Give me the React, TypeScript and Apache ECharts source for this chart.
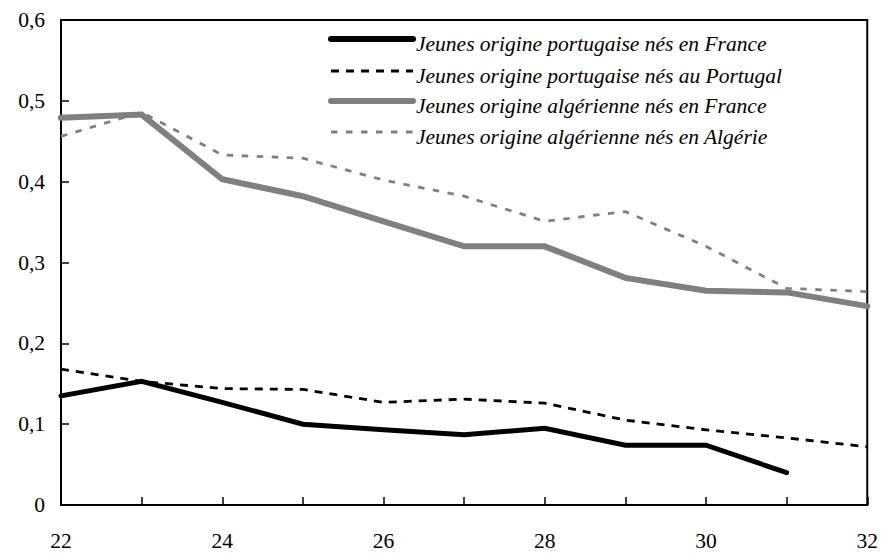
import React, { useEffect, useRef } from "react";
import * as echarts from "echarts";

const ages = [22, 23, 24, 25, 26, 27, 28, 29, 30, 31, 32];
const seriesNames = [
  "Jeunes origine portugaise nés en France",
  "Jeunes origine portugaise nés au Portugal",
  "Jeunes origine algérienne nés en France",
  "Jeunes origine algérienne nés en Algérie",
];
const portFrance = [0.135, 0.153, 0.127, 0.1, 0.093, 0.087, 0.095, 0.074, 0.074, 0.04, null];
const portPortugal = [0.168, 0.153, 0.144, 0.143, 0.127, 0.131, 0.126, 0.105, 0.093, 0.083, 0.072];
const algFrance = [0.479, 0.483, 0.403, 0.382, 0.351, 0.32, 0.32, 0.281, 0.265, 0.263, 0.246];
const algAlgerie = [0.456, 0.486, 0.433, 0.429, 0.402, 0.382, 0.351, 0.363, 0.32, 0.268, 0.264];

const FONT = "'Liberation Serif', 'Times New Roman', serif";

function pairs(vals: (number | null)[]) {
  return ages.map((a, i) => [a, vals[i]]).filter((p) => p[1] !== null);
}

export default function App() {
  const ref = useRef<HTMLDivElement>(null);
  useEffect(() => {
    if (!ref.current) return;
    const chart = echarts.init(ref.current, undefined, { renderer: "svg" });
    const styles = [
      { color: "#000000", width: 5, dash: null as number[] | null, legendWidth: 6 },
      { color: "#000000", width: 2.8, dash: [8, 7], legendWidth: 3 },
      { color: "#808080", width: 6, dash: null, legendWidth: 6 },
      { color: "#808080", width: 2.8, dash: [6.5, 8.5], legendWidth: 3 },
    ];
    const datas = [portFrance, portPortugal, algFrance, algAlgerie];
    const rowsY = [39, 71, 101, 132];
    const legendGraphics: any[] = [];
    seriesNames.forEach((name, i) => {
      const s = styles[i];
      legendGraphics.push({
        type: "line",
        shape: { x1: 331, y1: rowsY[i], x2: 413, y2: rowsY[i] },
        style: {
          stroke: s.color,
          lineWidth: s.legendWidth,
          lineDash: s.dash || undefined,
          lineCap: s.dash ? "butt" : "round",
        },
        silent: true,
      });
      legendGraphics.push({
        type: "text",
        x: 416,
        y: rowsY[i] + 5,
        style: {
          text: name,
          fontFamily: FONT,
          fontStyle: "italic",
          fontSize: 21.5,
          fill: "#000",
          verticalAlign: "middle",
          align: "left",
        },
        silent: true,
      });
    });
    chart.setOption({
      animation: false,
      backgroundColor: "#ffffff",
      grid: {
        left: 61,
        right: 13,
        top: 20,
        bottom: 48,
        show: true,
        borderColor: "#000",
        borderWidth: 2,
        containLabel: false,
      },
      graphic: legendGraphics,
      xAxis: {
        type: "value",
        min: 22,
        max: 32,
        interval: 1,
        axisLine: { show: true, lineStyle: { color: "#000", width: 2 } },
        axisTick: { show: true, inside: true, length: 8, lineStyle: { color: "#000", width: 1.5 } },
        splitLine: { show: false },
        axisLabel: {
          margin: 25,
          fontFamily: FONT,
          fontSize: 21.5,
          color: "#000",
          formatter: (v: number) => (v % 2 === 0 ? String(v) : ""),
        },
      },
      yAxis: {
        type: "value",
        min: 0,
        max: 0.6,
        interval: 0.1,
        axisLine: { show: true, lineStyle: { color: "#000", width: 2 } },
        axisTick: { show: true, inside: true, length: 8, lineStyle: { color: "#000", width: 1.5 } },
        splitLine: { show: false },
        axisLabel: {
          margin: 16,
          fontFamily: FONT,
          fontSize: 21.5,
          color: "#000",
          formatter: (v: number) => (Math.abs(v) < 1e-9 ? "0" : v.toFixed(1).replace(".", ",")),
        },
      },
      series: seriesNames.map((name, i) => ({
        name,
        type: "line",
        data: pairs(datas[i]),
        symbol: "none",
        showSymbol: false,
        lineStyle: {
          color: styles[i].color,
          width: styles[i].width,
          type: styles[i].dash || "solid",
          cap: styles[i].dash ? "butt" : "round",
          join: "miter",
        },
        itemStyle: { color: styles[i].color },
      })),
    });
    return () => chart.dispose();
  }, []);
  return (
    <div
      ref={ref}
      style={{ position: "fixed", left: 0, top: 0, width: 881, height: 553, background: "#fff" }}
    />
  );
}
